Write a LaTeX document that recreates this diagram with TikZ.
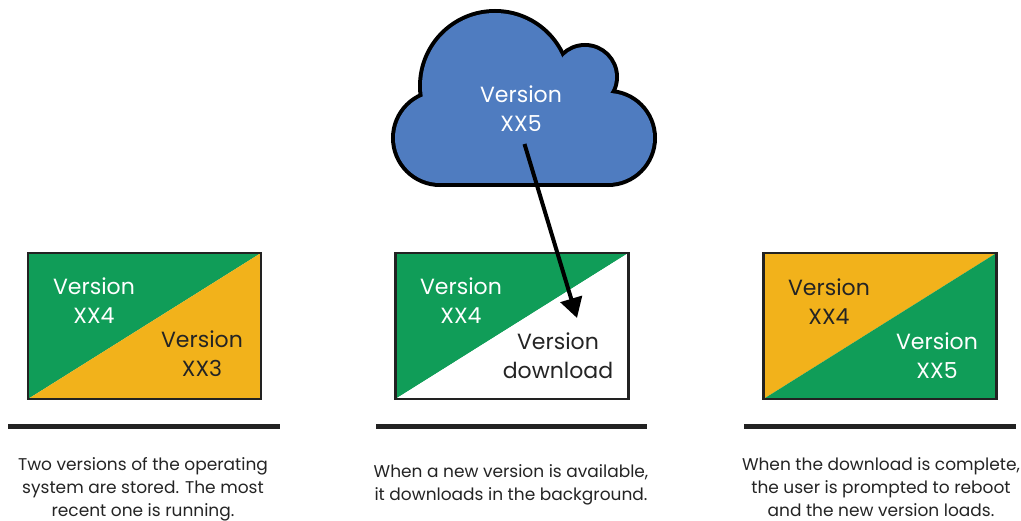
\documentclass[tikz,border=0pt]{standalone}
\usepackage{fontspec}
\setmainfont{Poppins}
\usetikzlibrary{arrows.meta}
\definecolor{ggreen}{RGB}{16,157,88}
\definecolor{gyellow}{RGB}{242,178,27}
\definecolor{gblue}{RGB}{79,124,192}
\definecolor{ink}{RGB}{34,34,34}
\definecolor{txt}{RGB}{36,36,36}
\tikzset{
  box/.style={rectangle, minimum width=233pt, minimum height=146pt, inner sep=0pt, outer sep=0pt},
  boxborder/.style={draw=ink, line width=2.5pt},
  rule/.style={draw=ink, line width=5pt},
  boxtext/.style={align=center, inner sep=0pt, font=\fontsize{22}{29}\selectfont},
  caption/.style={align=center, inner sep=0pt, text=txt, font=\fontsize{17}{23}\selectfont},
  cloudline/.style={draw=black, line width=8pt},
  arrowline/.style={draw=black, line width=4pt, -{Triangle[length=20pt,width=22pt]}},
}
\begin{document}
\begin{tikzpicture}[x=1pt,y=-1pt]
\useasboundingbox (0,0) rectangle (1021,521);
% cloud: outline first, then fill on top
\foreach \cx/\cy/\r in {440/138/45, 608/138/45, 495/86/73, 585/77/30}{
  \path[cloudline] (\cx,\cy) circle (\r pt);
}
\path[cloudline] (440,100) rectangle (608,183);
\foreach \cx/\cy/\r in {440/138/45, 608/138/45, 495/86/73, 585/77/30}{
  \fill[gblue] (\cx,\cy) circle (\r pt);
}
\fill[gblue] (440,100) rectangle (608,183);
\node[boxtext, text=white] (cloud) at (521,109) {Version\\XX5};

% box 1
\node[box] (b1) at (144.5,326) {};
\fill[ggreen] (b1.north west) -- (b1.north east) -- (b1.south west) -- cycle;
\fill[gyellow] (b1.north east) -- (b1.south east) -- (b1.south west) -- cycle;
\draw[boxborder] (b1.north west) rectangle (b1.south east);
\node[boxtext, text=white] (b1a) at (94,300.5) {Version\\XX4};
\node[boxtext, text=txt] (b1b) at (202,354) {Version\\XX3};

% box 2
\node[box] (b2) at (512,326) {};
\fill[ggreen] (b2.north west) -- (b2.north east) -- (b2.south west) -- cycle;
\fill[white] (b2.north east) -- (b2.south east) -- (b2.south west) -- cycle;
\draw[boxborder] (b2.north west) rectangle (b2.south east);
\node[boxtext, text=white] (b2a) at (461,300.5) {Version\\XX4};
\node[boxtext, text=txt] (b2b) at (558,356) {Version\\download};

% box 3
\node[box] (b3) at (880,326) {};
\fill[gyellow] (b3.north west) -- (b3.north east) -- (b3.south west) -- cycle;
\fill[ggreen] (b3.north east) -- (b3.south east) -- (b3.south west) -- cycle;
\draw[boxborder] (b3.north west) rectangle (b3.south east);
\node[boxtext, text=txt] (b3a) at (829,301.5) {Version\\XX4};
\node[boxtext, text=white] (b3b) at (937,355.5) {Version\\XX5};

% arrow
\coordinate (arrS) at (524.5,144);
\coordinate (arrE) at (577,318);
\draw[arrowline] (arrS) -- (arrE);

% rules
\draw[rule] (8,427) -- (280,427);
\draw[rule] (376,427) -- (647,427);
\draw[rule] (744,427) -- (1016,427);

% captions
\node[caption] (c1) at (143,489.5) {Two versions of the operating\\system are stored. The most\\recent one is running.};
\node[caption] (c2) at (511,485) {When a new version is available,\\it downloads in the background.};
\node[caption] (c3) at (881,487) {When the download is complete,\\the user is prompted to reboot\\and the new version loads.};
\end{tikzpicture}
\end{document}
